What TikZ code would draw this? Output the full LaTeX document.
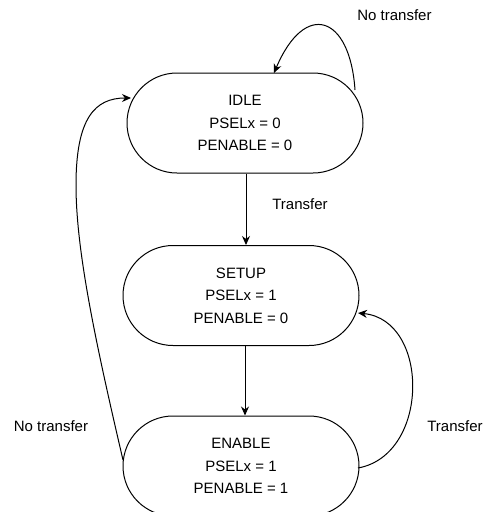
\documentclass[tikz,border=0pt]{standalone}
\usepackage{fontspec}
\setmainfont{Liberation Sans}
\usetikzlibrary{arrows.meta}
\begin{document}
\begin{tikzpicture}[x=1pt,y=-1pt,
  state/.style={draw,line width=1pt,rounded corners=50pt,minimum width=236pt,minimum height=100pt,align=center,inner sep=0pt,font=\fontsize{15}{22.5}\selectfont},
  lbl/.style={font=\fontsize{15}{18}\selectfont,inner sep=0pt},
  conn/.style={line width=1pt,-{Stealth[length=9pt,width=8pt]}}]
\useasboundingbox (0,0) rectangle (483,512);
\node[state] (idle) at (245,123) {IDLE\\PSELx = 0\\PENABLE = 0};
\node[state] (setup) at (241,295.5) {SETUP\\PSELx = 1\\PENABLE = 0};
\node[state] (enable) at (241,466) {ENABLE\\PSELx = 1\\PENABLE = 1};
\coordinate (idleR) at (355,90);
\coordinate (idleT) at (274,73);
\coordinate (idleL) at (131,98);
\coordinate (enL) at (123,460);
\coordinate (enR) at (358,468);
\coordinate (setR) at (358,313);
\coordinate (mid) at (76,185);
\draw[conn] (idle.south -| 246,0) -- (setup.north -| 246,0);
\draw[conn] (setup.south -| 245,0) -- (enable.north -| 245,0);
\draw[conn] (idleR) .. controls (350,15) and (305,0) .. (idleT);
\draw[conn] (enR) .. controls (430,455) and (430,320) .. (setR);
\draw[conn] (enL) .. controls (95,340) and (76,250) .. (mid) .. controls (76,118) and (95,98) .. (idleL);
\node[lbl] (t1) at (300,204) {Transfer};
\node[lbl] (nt1) at (394.5,15) {No transfer};
\node[lbl] (nt2) at (51,426) {No transfer};
\node[lbl] (t2) at (455,426) {Transfer};
\end{tikzpicture}
\end{document}
